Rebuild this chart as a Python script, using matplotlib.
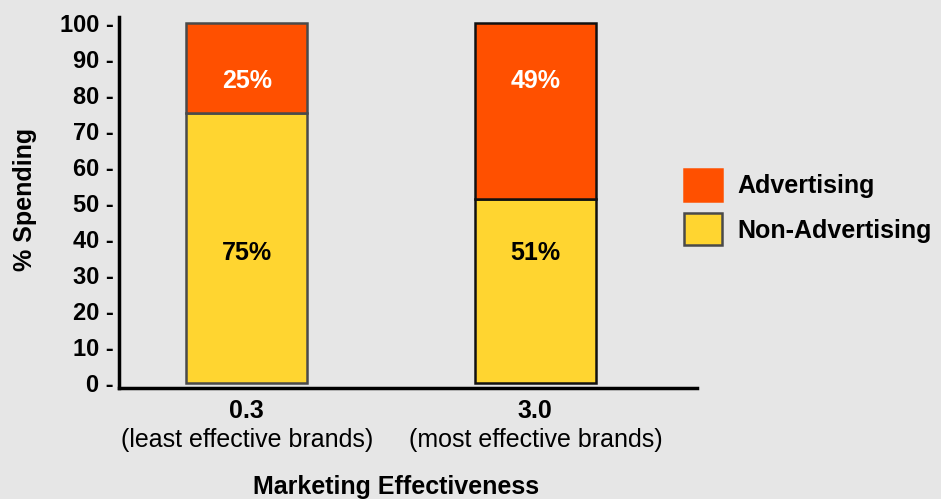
import matplotlib.pyplot as plt
import numpy as np

plt.rcParams['font.family'] = ['Liberation Sans', 'DejaVu Sans']

categories = ['0.3', '3.0']
subtitles = ['(least effective brands)', '(most effective brands)']
non_adv = [75, 51]
adv = [25, 49]
yticks = [0, 10, 20, 30, 40, 50, 60, 70, 80, 90, 100]

bg = '#E6E6E6'
orange = '#FF5000'
yellow = '#FFD530'
edges = ['#4a4a4a', '#111111']
fs = 18

fig = plt.figure(figsize=(9.41, 4.99), dpi=100, facecolor=bg)
ax = fig.add_axes([0.1265, 0.2224, 0.6142, 0.7436], facecolor=bg)

x = np.arange(len(categories))
w = 0.42
ax.bar(x, non_adv, w, color=yellow, edgecolor=edges, linewidth=1.8,
       label='Non-Advertising')
ax.bar(x, adv, w, bottom=non_adv, color=orange, edgecolor=edges,
       linewidth=1.8, label='Advertising')

# value labels sit at roughly the same heights in both bars
for i in range(len(x)):
    ax.text(x[i], 36, f'{non_adv[i]}%', ha='center', va='center',
            fontsize=fs, fontweight='bold', color='black')
    ax.text(x[i], 84, f'{adv[i]}%', ha='center', va='center',
            fontsize=fs, fontweight='bold', color='white')

ax.set_xlim(-0.442, 1.56)
ax.set_ylim(-1.4, 101.7)
ax.set_yticks(yticks)
ax.set_yticklabels([f'{t} -' for t in yticks], fontsize=17, fontweight='bold')
ax.tick_params(axis='y', length=0, pad=4)
ax.set_xticks([])

for s in ['top', 'right']:
    ax.spines[s].set_visible(False)
ax.spines['left'].set_linewidth(2.5)
ax.spines['bottom'].set_linewidth(2.5)

trans = ax.get_xaxis_transform()
for i in range(len(x)):
    ax.text(x[i], -0.062, categories[i], transform=trans, ha='center', va='center',
            fontsize=fs, fontweight='bold')
    ax.text(x[i], -0.141, subtitles[i], transform=trans, ha='center', va='center',
            fontsize=fs)

fig.text(0.027, 0.60, '% Spending', rotation=90, ha='center', va='center',
         fontsize=fs, fontweight='bold')
fig.text(0.421, 0.024, 'Marketing Effectiveness', ha='center', va='center',
         fontsize=fs, fontweight='bold')

h, l = ax.get_legend_handles_labels()
leg = fig.legend(h[::-1], l[::-1], loc='center left', bbox_to_anchor=(0.727, 0.585),
                 frameon=False, prop={'weight': 'bold', 'size': fs},
                 handlelength=1.52, handleheight=1.6, handletextpad=0.62,
                 labelspacing=0.5, borderpad=0, borderaxespad=0)
leg.legend_handles[0].set_edgecolor(orange)

fig.savefig('out.png', dpi=100, facecolor=bg)
